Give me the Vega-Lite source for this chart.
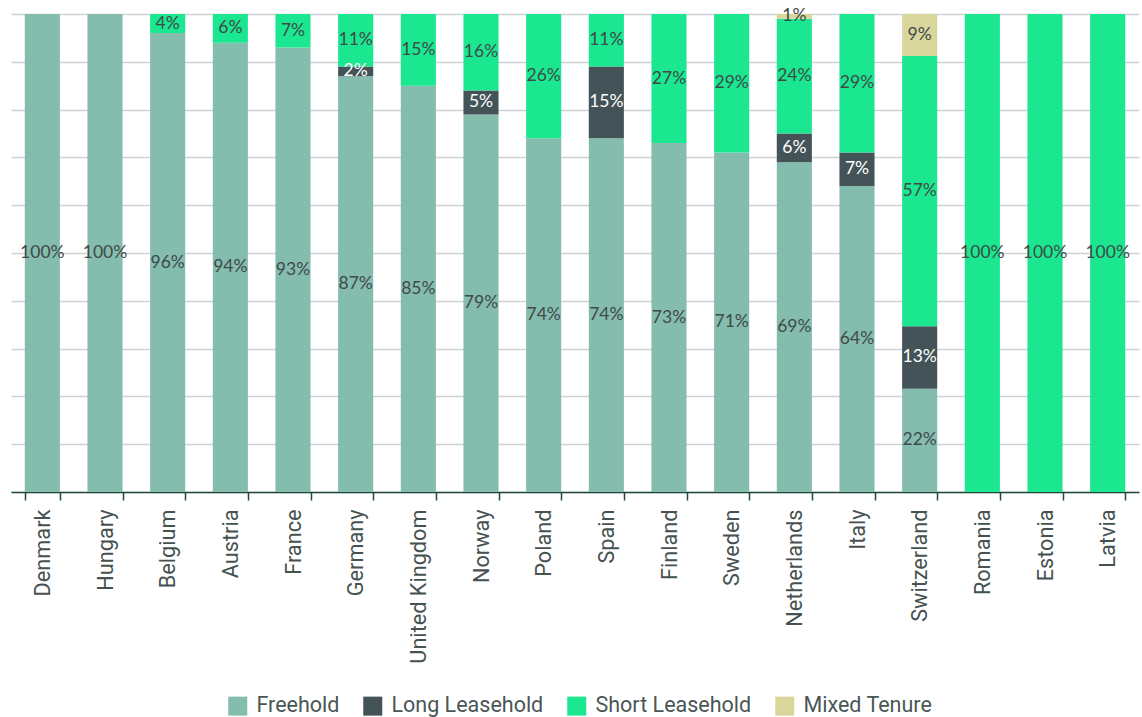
{
  "$schema": "https://vega.github.io/schema/vega-lite/v6.json",
  "width": 1128,
  "height": 478,
  "autosize": {"type": "none"},
  "padding": {"left": 11, "top": 14, "right": 3, "bottom": 225},
  "background": "white",
  "config": {
    "view": {"stroke": null},
    "font": "Roboto"
  },
  "data": {
    "values": [
      {"country": "Denmark", "tenure": "Freehold", "value": 100},
      {"country": "Hungary", "tenure": "Freehold", "value": 100},
      {"country": "Belgium", "tenure": "Freehold", "value": 96},
      {"country": "Belgium", "tenure": "Short Leasehold", "value": 4},
      {"country": "Austria", "tenure": "Freehold", "value": 94},
      {"country": "Austria", "tenure": "Short Leasehold", "value": 6},
      {"country": "France", "tenure": "Freehold", "value": 93},
      {"country": "France", "tenure": "Short Leasehold", "value": 7},
      {"country": "Germany", "tenure": "Freehold", "value": 87},
      {"country": "Germany", "tenure": "Long Leasehold", "value": 2},
      {"country": "Germany", "tenure": "Short Leasehold", "value": 11},
      {"country": "United Kingdom", "tenure": "Freehold", "value": 85},
      {"country": "United Kingdom", "tenure": "Short Leasehold", "value": 15},
      {"country": "Norway", "tenure": "Freehold", "value": 79},
      {"country": "Norway", "tenure": "Long Leasehold", "value": 5},
      {"country": "Norway", "tenure": "Short Leasehold", "value": 16},
      {"country": "Poland", "tenure": "Freehold", "value": 74},
      {"country": "Poland", "tenure": "Short Leasehold", "value": 26},
      {"country": "Spain", "tenure": "Freehold", "value": 74},
      {"country": "Spain", "tenure": "Long Leasehold", "value": 15},
      {"country": "Spain", "tenure": "Short Leasehold", "value": 11},
      {"country": "Finland", "tenure": "Freehold", "value": 73},
      {"country": "Finland", "tenure": "Short Leasehold", "value": 27},
      {"country": "Sweden", "tenure": "Freehold", "value": 71},
      {"country": "Sweden", "tenure": "Short Leasehold", "value": 29},
      {"country": "Netherlands", "tenure": "Freehold", "value": 69},
      {"country": "Netherlands", "tenure": "Long Leasehold", "value": 6},
      {"country": "Netherlands", "tenure": "Short Leasehold", "value": 24},
      {"country": "Netherlands", "tenure": "Mixed Tenure", "value": 1},
      {"country": "Italy", "tenure": "Freehold", "value": 64},
      {"country": "Italy", "tenure": "Long Leasehold", "value": 7},
      {"country": "Italy", "tenure": "Short Leasehold", "value": 29},
      {"country": "Switzerland", "tenure": "Freehold", "value": 21.6},
      {"country": "Switzerland", "tenure": "Long Leasehold", "value": 13.1},
      {"country": "Switzerland", "tenure": "Short Leasehold", "value": 56.5},
      {"country": "Switzerland", "tenure": "Mixed Tenure", "value": 8.8},
      {"country": "Romania", "tenure": "Short Leasehold", "value": 100},
      {"country": "Estonia", "tenure": "Short Leasehold", "value": 100},
      {"country": "Latvia", "tenure": "Short Leasehold", "value": 100}
    ]
  },
  "transform": [
    {"calculate": "indexof(['Freehold','Long Leasehold','Short Leasehold','Mixed Tenure'], datum.tenure)", "as": "ord"},
    {"stack": "value", "groupby": ["country"], "sort": [{"field": "ord", "order": "ascending"}], "as": ["y0", "y1"]},
    {"calculate": "(datum.y0 + datum.y1) / 2", "as": "mid"},
    {"calculate": "format(datum.value, '.0f') + '%'", "as": "label"}
  ],
  "encoding": {
    "x": {
      "field": "country",
      "type": "nominal",
      "sort": null,
      "scale": {"paddingInner": 0.44, "paddingOuter": 0.22},
      "axis": {
        "title": null,
        "labelAngle": -90,
        "labelAlign": "right",
        "labelBaseline": "middle",
        "labelFontSize": 21.7,
        "labelColor": "#45524f",
        "labelPadding": 9,
        "labelOverlap": false,
        "labelLimit": 0,
        "tickBand": "extent",
        "tickSize": 8,
        "tickColor": "#1f4a3c",
        "tickWidth": 1.5,
        "domainColor": "#1f4a3c",
        "domainWidth": 1.5,
        "grid": false
      }
    }
  },
  "layer": [
    {
      "mark": {"type": "bar"},
      "encoding": {
        "y": {
          "field": "y0",
          "type": "quantitative",
          "scale": {"domain": [0, 100], "nice": false},
          "axis": {
            "title": null,
            "labels": false,
            "ticks": false,
            "domain": false,
            "values": [0, 10, 20, 30, 40, 50, 60, 70, 80, 90, 100],
            "gridColor": "#cdd3d5",
            "gridWidth": 1.5
          }
        },
        "y2": {"field": "y1"},
        "color": {
          "field": "tenure",
          "type": "nominal",
          "scale": {
            "domain": ["Freehold", "Long Leasehold", "Short Leasehold", "Mixed Tenure"],
            "range": ["#84bcad", "#435357", "#1ae78f", "#d9d69b"]
          },
          "legend": {
            "title": null,
            "orient": "none",
            "direction": "horizontal",
            "legendX": 216,
            "legendY": 681,
            "columns": 4,
            "symbolType": "square",
            "symbolSize": 361,
            "symbolStrokeWidth": 0,
            "symbolOpacity": 1,
            "labelFontSize": 21.5,
            "labelLimit": 0,
            "labelColor": "#4a5656",
            "labelOffset": 8,
            "columnPadding": 22
          }
        }
      }
    },
    {
      "mark": {"type": "text", "fontSize": 17.5, "font": "Lato", "baseline": "middle", "align": "center"},
      "encoding": {
        "y": {"field": "mid", "type": "quantitative"},
        "text": {"field": "label", "type": "nominal"},
        "color": {
          "condition": {"test": "datum.tenure === 'Long Leasehold'", "value": "#ffffff"},
          "value": "#3f4a4a"
        }
      }
    }
  ]
}
